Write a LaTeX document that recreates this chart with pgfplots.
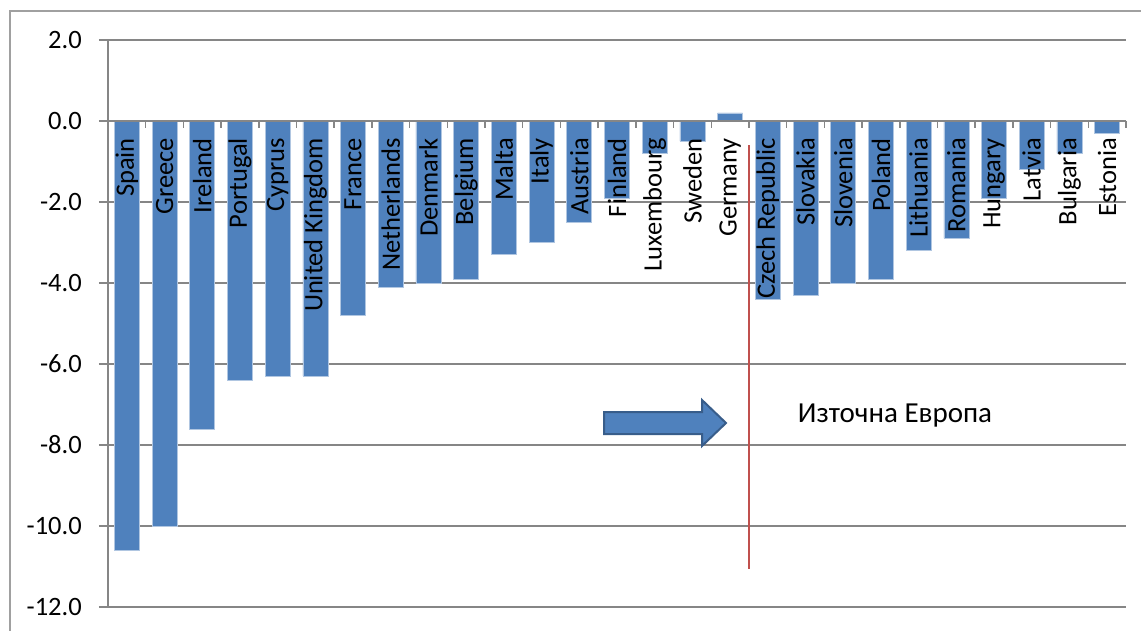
\documentclass[border=0pt]{standalone}
\usepackage{pgfplots}
\pgfplotsset{compat=1.18}
\usepackage{pgfplotstable}
\usepackage{fontspec}
\setmainfont{Carlito}

\definecolor{barblue}{HTML}{4F81BD}
\definecolor{arrowedge}{HTML}{385D8A}
\definecolor{gridgray}{HTML}{868686}
\definecolor{framegray}{HTML}{A0A0A0}
\definecolor{divred}{HTML}{C0504D}

% Budget balance by country, percent of GDP
\pgfplotstableread{
idx value label
0  -10.6 Spain
1  -10.0 Greece
2  -7.6  Ireland
3  -6.4  Portugal
4  -6.3  Cyprus
5  -6.3  {United Kingdom}
6  -4.8  France
7  -4.1  Netherlands
8  -4.0  Denmark
9  -3.9  Belgium
10 -3.3  Malta
11 -3.0  Italy
12 -2.5  Austria
13 -1.9  Finland
14 -0.8  Luxembourg
15 -0.5  Sweden
16  0.2  Germany
17 -4.4  {Czech Republic}
18 -4.3  Slovakia
19 -4.0  Slovenia
20 -3.9  Poland
21 -3.2  Lithuania
22 -2.9  Romania
23 -1.9  Hungary
24 -1.2  Latvia
25 -0.8  Bulgaria
26 -0.3  Estonia
}\balance

\begin{document}
\begin{tikzpicture}[font=\fontsize{26.5}{31}\selectfont]
\begin{axis}[
  width=1018pt, height=567pt, scale only axis,
  xmin=-0.5, xmax=26.5, ymin=-12, ymax=2,
  axis line style={draw=none},
  xtick=\empty, ytick pos=left,
  ytick={-12,-10,-8,-6,-4,-2,0,2},
  yticklabels={-12.0,-10.0,-8.0,-6.0,-4.0,-2.0,0.0,2.0},
  yticklabel style={anchor=east, inner sep=0pt, xshift=-17pt, black},
  tick align=outside, major tick length=9pt,
  major tick style={gridgray, line width=1.5pt},
  ymajorgrids, grid style={gridgray, line width=1.5pt},
  clip=false,
]
\addplot[ybar, bar width=25pt, bar shift=0pt, fill=barblue,
         draw=white!55!barblue, line width=0.6pt]
  table[x=idx, y=value] {\balance};

% vertical axis line
\draw[gridgray, line width=2pt] (rel axis cs:0,0) -- (rel axis cs:0,1);
% horizontal axis at zero with ticks between categories
\draw[gridgray, line width=2pt] (axis cs:-0.5,0) -- (axis cs:26.5,0);
\pgfplotsinvokeforeach{1,...,27}{
  \draw[gridgray, line width=1.5pt] (axis cs:#1-0.5,0) -- ([yshift=-7pt]axis cs:#1-0.5,0);
}

% divider between western and eastern members
\draw[divred, line width=2pt] (axis cs:16.5,-0.6) -- (axis cs:16.5,-11.05);

% country names
\addplot[draw=none, mark=none, nodes near coords,
         point meta=explicit symbolic,
         nodes near coords style={yshift=-17pt, rotate=90, anchor=east,
                                  inner sep=0pt, text=black}]
  table[x=idx, y expr=0, meta=label] {\balance};

% lower left corner of the whole chart area
\coordinate (chartSW) at ([xshift=-108pt, yshift=-23pt]rel axis cs:0,0);
\end{axis}

\begin{scope}[shift={(chartSW)}, x=1pt, y=1pt]
  % chart area frame
  \draw[framegray, line width=1.5pt] (10,-10) -- (10,619) -- (1160,619);
  % arrow pointing to the eastern group
  \draw[fill=barblue, draw=arrowedge, line width=2pt, line join=miter]
    (604,196) -- (702,196) -- (702,184) -- (726,207) -- (702,230)
    -- (702,218) -- (604,218) -- cycle;
  \node[anchor=center, font=\fontsize{29}{34}\selectfont] at (895,214) {Източна Европа};
  \pgfresetboundingbox
  \useasboundingbox (0,0) rectangle (1141,630);
\end{scope}
\end{tikzpicture}
\end{document}
